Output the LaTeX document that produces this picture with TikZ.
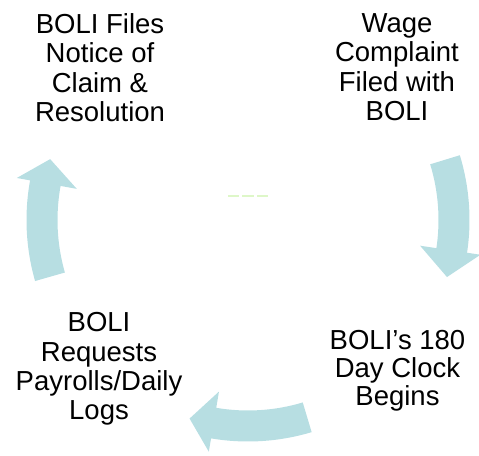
\documentclass[tikz,border=0pt]{standalone}
\usepackage{fontspec}
\setmainfont{Liberation Sans}
\definecolor{arrowfill}{RGB}{183,222,226}
\definecolor{faintgreen}{RGB}{222,247,200}
\begin{document}
\begin{tikzpicture}[x=1pt,y=1pt,
  lbl/.style={align=center, inner sep=0pt, anchor=north, text=black,
    font=\fontsize{27.5}{29.3}\selectfont},
  cyclearrow/.style={fill=arrowfill, draw=none}]
\useasboundingbox (0,0) rectangle (479,455);
% labels (north = first baseline - 19.7)
\node[lbl] (files) at (100,441.7) {BOLI Files\\Notice of\\Claim \&\\Resolution};
\node[lbl] (wage) at (397,441.7) {Wage\\Complaint\\Filed with\\BOLI};
\node[lbl, font=\fontsize{27.5}{28}\selectfont] (clock) at (397.5,124.7) {BOLI’s 180\\Day Clock\\Begins};
\node[lbl] (req) at (99,142.7) {BOLI\\Requests\\Payrolls/Daily\\Logs};
% arrows around centre
\begin{scope}[shift={(248,235)}]
  \coordinate (c) at (0,0);
  % right arrow: wage -> clock
  \fill[cyclearrow] (17:221.5) arc[start angle=17, end angle=-8.5, radius=221.5]
    -- (-8.5:235) -- (-16:207) -- (-8.5:174) -- (-8.5:190.5)
    arc[start angle=-8.5, end angle=17, radius=190.5] -- cycle;
  % bottom arrow: clock -> req
  \fill[cyclearrow] (-73.3:221.5) arc[start angle=-73.3, end angle=-99.6, radius=221.5]
    -- (-99.6:235) -- (-106.4:207) -- (-99.6:174) -- (-99.6:190.5)
    arc[start angle=-99.6, end angle=-73.3, radius=190.5] -- cycle;
  % left arrow: req -> files
  \fill[cyclearrow] (196:221.5) arc[start angle=196, end angle=169.7, radius=221.5]
    -- (169.7:235) -- (162.9:207) -- (169.7:174) -- (169.7:190.5)
    arc[start angle=169.7, end angle=196, radius=190.5] -- cycle;
\end{scope}
% faint centre line
\draw[faintgreen, line width=1.6pt] (228,259) -- (239,259);
\draw[faintgreen, line width=1.6pt] (242,259) -- (254,259);
\draw[faintgreen, line width=1.6pt] (257,259) -- (268,259);
\end{tikzpicture}
\end{document}
